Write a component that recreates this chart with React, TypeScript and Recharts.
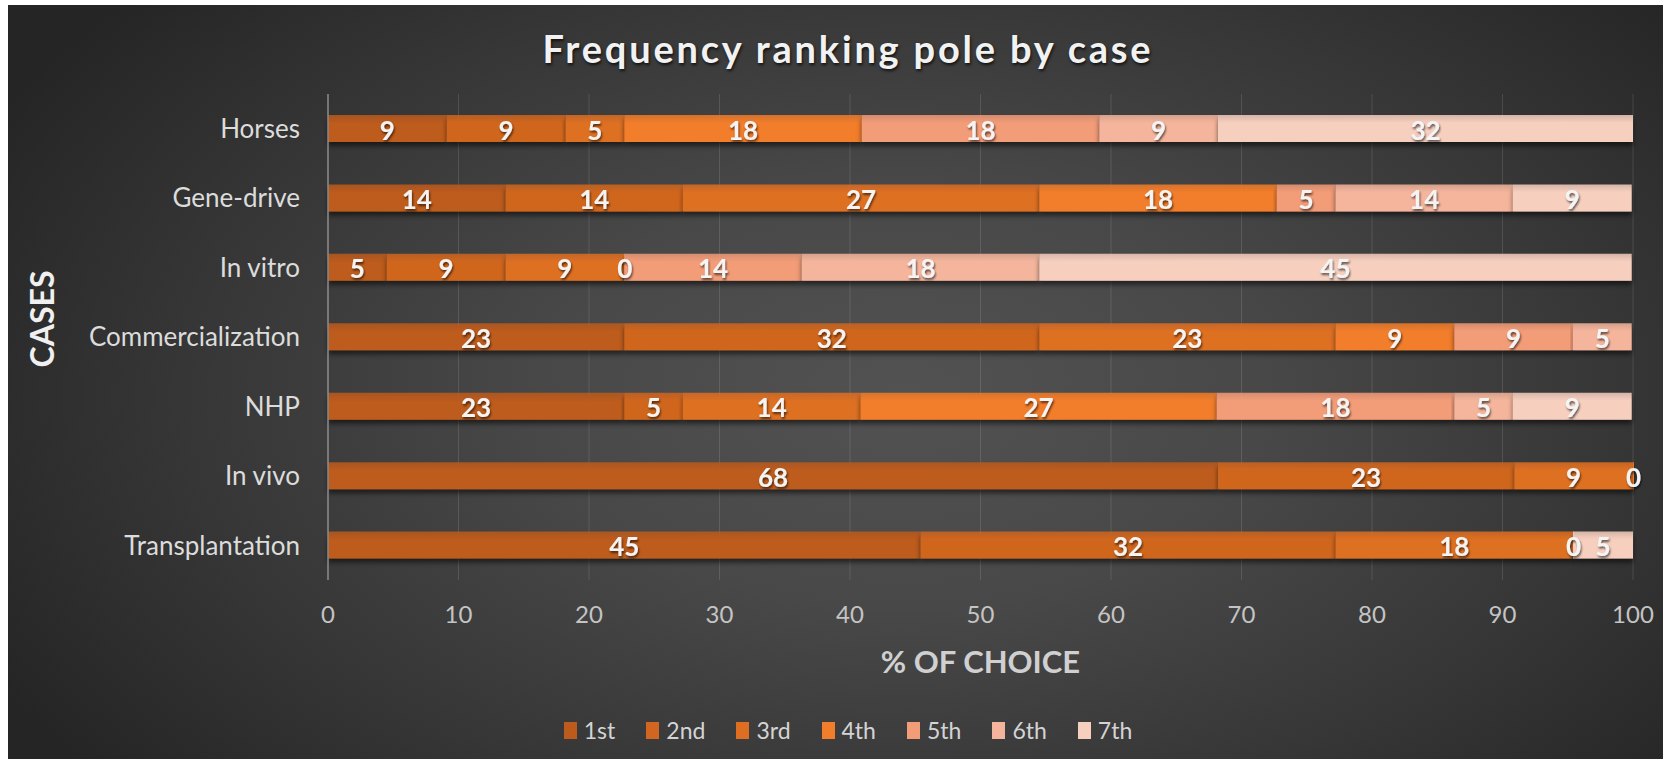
import React from "react";
import { Bar, BarChart, CartesianGrid, LabelList, Legend, XAxis, YAxis } from "recharts";

// cases, top to bottom
const cases = ["Horses", "Gene-drive", "In vitro", "Commercialization", "NHP", "In vivo", "Transplantation"];

// % of choice per rank (null = no segment drawn)
const first = [9.1, 13.6, 4.5, 22.7, 22.7, 68.2, 45.4];
const second = [9.1, 13.6, 9.1, 31.8, 4.5, 22.7, 31.8];
const third = [4.5, 27.3, 9.1, 22.7, 13.6, 9.1, 18.2];
const fourth = [18.2, 18.2, 0, 9.1, 27.3, 0, 0];
const fifth = [18.2, 4.5, 13.6, 9.1, 18.2, null, null];
const sixth = [9.1, 13.6, 18.2, 4.5, 4.5, null, null];
const seventh = [31.8, 9.1, 45.4, null, 9.1, null, 4.6];

const xTicks = [0, 10, 20, 30, 40, 50, 60, 70, 80, 90, 100];

const ranks = [
  { key: "1st", values: first, color: "#bd5b1c" },
  { key: "2nd", values: second, color: "#d0661f" },
  { key: "3rd", values: third, color: "#de6f22" },
  { key: "4th", values: fourth, color: "#f27d2a" },
  { key: "5th", values: fifth, color: "#f39c78" },
  { key: "6th", values: sixth, color: "#f5b59c" },
  { key: "7th", values: seventh, color: "#f7cfbf" },
];

const data = cases.map((name, i) => {
  const row: Record<string, string | number | null> = { name };
  ranks.forEach((r) => {
    row[r.key] = r.values[i];
  });
  return row;
});

const FONT = "Lato, 'Open Sans', sans-serif";
const W = 1655;
const H = 754;

function SegmentLabel(props: any) {
  const { value } = props;
  if (value === null || value === undefined) return null;
  const vb = props.viewBox ?? props;
  const x = Number(vb.x) + Number(vb.width) / 2;
  const y = Number(vb.y) + Number(vb.height) / 2;
  return (
    <text
      x={x}
      y={y + 1}
      textAnchor="middle"
      dominantBaseline="central"
      fill="#f4f4f4"
      fontSize={26}
      fontWeight={700}
      fontFamily={FONT}
      filter="url(#textShadow)"
    >
      {Math.round(Number(value))}
    </text>
  );
}

function CasesLabel(props: any) {
  const vb = props.viewBox;
  const x = vb.x + 33;
  const y = vb.y + vb.height / 2 - 18;
  return (
    <text
      x={x}
      y={y}
      transform={`rotate(-90 ${x} ${y})`}
      textAnchor="middle"
      dominantBaseline="central"
      fill="#f0f0f0"
      fontSize={32}
      fontWeight={700}
      fontFamily={FONT}
    >
      CASES
    </text>
  );
}

function ChoiceLabel(props: any) {
  const vb = props.viewBox;
  return (
    <text
      x={vb.x + vb.width / 2}
      y={vb.y + 81}
      textAnchor="middle"
      dominantBaseline="central"
      fill="#d0d0d0"
      fontSize={31}
      fontWeight={700}
      fontFamily={FONT}
    >
      % OF CHOICE
    </text>
  );
}

function RankLegend() {
  return (
    <div
      style={{
        display: "flex",
        justifyContent: "center",
        alignItems: "center",
        gap: 31,
        paddingLeft: 25,
        fontFamily: FONT,
        fontSize: 23,
        color: "#d4d4d4",
      }}
    >
      {ranks.map((r) => (
        <div key={r.key} style={{ display: "flex", alignItems: "center", gap: 7 }}>
          <span style={{ display: "inline-block", width: 13, height: 17, background: r.color }} />
          <span>{r.key}</span>
        </div>
      ))}
    </div>
  );
}

export default function App() {
  return (
    <div
      style={{
        position: "absolute",
        left: 8,
        top: 5,
        width: W,
        height: H,
        background:
          "radial-gradient(ellipse 62% 80% at 54% 52%, #525252 0%, #484848 35%, #363636 70%, #252525 100%)",
      }}
    >
      <div
        style={{
          position: "absolute",
          left: 0,
          top: 22,
          width: W,
          paddingLeft: 25,
          boxSizing: "border-box",
          textAlign: "center",
          fontFamily: FONT,
          fontSize: 38,
          fontWeight: 700,
          letterSpacing: 2.8,
          color: "#f2f2f2",
          lineHeight: "42px",
          textShadow: "1px 2px 3px rgba(0,0,0,0.7)",
        }}
      >
        Frequency ranking pole by case
      </div>
      <BarChart
        width={W}
        height={H}
        data={data}
        layout="vertical"
        margin={{ top: 89, right: 30, left: 0, bottom: 51 }}
        barSize={27}
        style={{ position: "absolute", left: 0, top: 0 }}
      >
        <defs>
          {ranks.map((r) => (
            <linearGradient key={r.key} id={`grad-${r.key}`} x1="0" x2="0" y1="0" y2="1">
              <stop offset="0%" stopColor={r.color} stopOpacity={0.82} />
              <stop offset="30%" stopColor={r.color} stopOpacity={1} />
              <stop offset="100%" stopColor={r.color} stopOpacity={1} />
            </linearGradient>
          ))}
          <filter id="barShadow" x="-5%" y="-30%" width="110%" height="180%">
            <feDropShadow dx="0" dy="4" stdDeviation="2.5" floodColor="#000" floodOpacity="0.55" />
          </filter>
          <filter id="textShadow" x="-30%" y="-30%" width="160%" height="160%">
            <feDropShadow dx="1" dy="2" stdDeviation="1.2" floodColor="#000" floodOpacity="0.6" />
          </filter>
        </defs>
        <CartesianGrid horizontal={false} stroke="rgba(255,255,255,0.12)" />
        <XAxis
          type="number"
          domain={[0, 100]}
          ticks={xTicks}
          axisLine={false}
          tickLine={false}
          tickMargin={20}
          height={100}
          tick={{ fill: "#c4c4c4", fontSize: 24, fontFamily: FONT }}
          label={<ChoiceLabel />}
        />
        <YAxis
          type="category"
          dataKey="name"
          width={320}
          tickLine={false}
          tickMargin={22}
          axisLine={{ stroke: "#8a8a8a", strokeWidth: 1.5 }}
          tick={{ fill: "#dcdcdc", fontSize: 26, fontFamily: FONT }}
          label={<CasesLabel />}
        />
        <Legend
          verticalAlign="bottom"
          content={<RankLegend />}
          wrapperStyle={{ top: 711, left: 0, width: W, height: 28 }}
        />
        {ranks.map((r) => (
          <Bar
            key={r.key}
            dataKey={r.key}
            stackId="rank"
            fill={`url(#grad-${r.key})`}
            filter="url(#barShadow)"
            minPointSize={r.key === "4th" ? 1 : 0}
            isAnimationActive={false}
          >
            <LabelList dataKey={r.key} content={<SegmentLabel />} />
          </Bar>
        ))}
      </BarChart>
    </div>
  );
}
